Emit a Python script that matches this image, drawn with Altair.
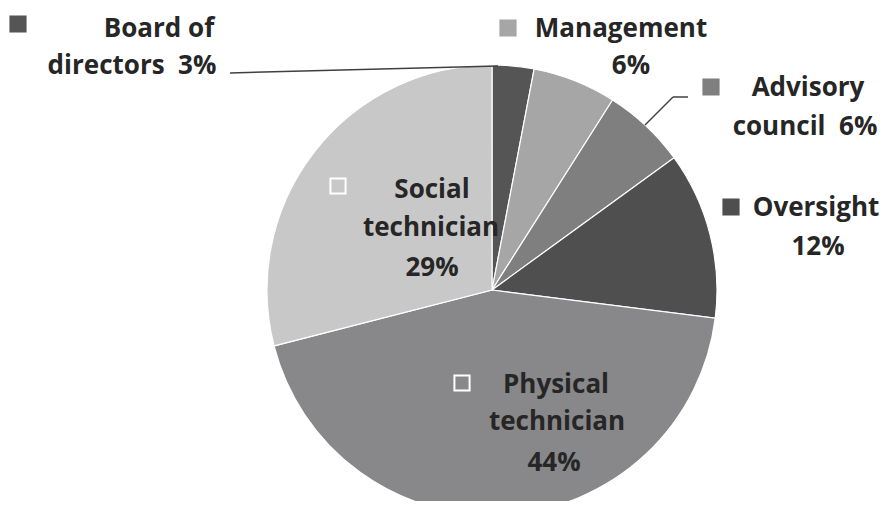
import altair as alt
import pandas as pd

# ---- data ----
categories = ["Board of directors", "Management", "Advisory council", "Oversight",
              "Physical technician", "Social technician"]
shares = [3, 6, 6, 12, 44, 29]
slice_colors = ["#555555", "#a6a6a6", "#7f7f7f", "#4f4f4f", "#88888a", "#c8c8c8"]

NB2 = "\u00a0\u00a0"
# label text lines, per category
label_lines = [
    ["Board of", "directors" + NB2 + "3%"],
    ["Management", "6%"],
    ["Advisory", "council" + NB2 + "6%"],
    ["Oversight", "12%"],
    ["Physical", "technician", "44%"],
    ["Social", "technician", "29%"],
]

# ---- layout (chart pixel coordinates) ----
CX, CY, R = 484, 282, 225
line_pos = [
    [(151, 21), (124, 58)],
    [(613, 21), (623, 58)],
    [(800, 80), (797, 119)],
    [(808, 200), (810, 239)],
    [(548, 377), (549, 414), (546, 455)],
    [(424, 182), (423, 220), (424, 260)],
]
square_pos = [(10, 16), (500, 20), (703, 79), (723, 199), (454, 375), (330, 178)]
square_hollow = [False, False, False, False, True, True]
leaders = [
    (222, 65, 490, 58),
    (637, 117, 665, 89),
    (665, 89, 680, 89),
]

pie_df = pd.DataFrame({"cat": categories, "share": shares, "order": range(len(categories))})

text_rows = []
for ci, lines in enumerate(label_lines):
    for li, t in enumerate(lines):
        x, y = line_pos[ci][li]
        text_rows.append({"t": t, "x": x, "y": y})
text_df = pd.DataFrame(text_rows)

sq_df = pd.DataFrame({
    "x": [p[0] for p in square_pos],
    "y": [p[1] for p in square_pos],
    "fill": [("#ffffff00" if h else c) for h, c in zip(square_hollow, slice_colors)],
    "stroke": [("#ffffff" if h else c) for h, c in zip(square_hollow, slice_colors)],
})
lead_df = pd.DataFrame(leaders, columns=["x", "y", "x2", "y2"])

pie = alt.Chart(pie_df).mark_arc(stroke="white", strokeWidth=1.2).encode(
    theta=alt.Theta("share:Q", stack=True),
    order=alt.Order("order:Q"),
    color=alt.Color("cat:N", scale=alt.Scale(domain=categories, range=slice_colors), legend=None),
    x=alt.value(CX), y=alt.value(CY), radius=alt.value(R),
)

texts = alt.Chart(text_df).mark_text(
    font="Open Sans", fontWeight="bold", fontSize=26, color="#262626", align="center", baseline="middle"
).encode(
    x=alt.X("x:Q", scale=None, axis=None),
    y=alt.Y("y:Q", scale=None, axis=None),
    text="t:N",
)

squares = alt.Chart(sq_df).mark_square(size=230, strokeWidth=2, opacity=1).encode(
    x=alt.X("x:Q", scale=None, axis=None),
    y=alt.Y("y:Q", scale=None, axis=None),
    fill=alt.Fill("fill:N", scale=None),
    stroke=alt.Stroke("stroke:N", scale=None),
)

lines = alt.Chart(lead_df).mark_rule(color="#404040", strokeWidth=1.5).encode(
    x=alt.X("x:Q", scale=None, axis=None),
    y=alt.Y("y:Q", scale=None, axis=None),
    x2="x2:Q", y2="y2:Q",
)

chart = alt.layer(pie, lines, squares, texts).properties(
    width=874, height=493, padding=0, autosize=alt.AutoSizeParams(type="none"),
    background="white",
).configure_view(stroke=None)

chart.save("out.html", embed_options={"renderer": "svg", "actions": False})
